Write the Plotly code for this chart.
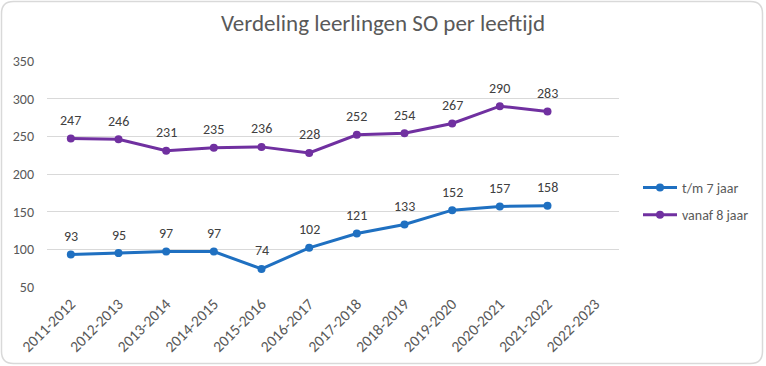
import plotly.graph_objects as go

categories = ["2011-2012", "2012-2013", "2013-2014", "2014-2015", "2015-2016", "2016-2017",
              "2017-2018", "2018-2019", "2019-2020", "2020-2021", "2021-2022", "2022-2023"]
tm7 = [93, 95, 97, 97, 74, 102, 121, 133, 152, 157, 158, None]
vanaf8 = [247, 246, 231, 235, 236, 228, 252, 254, 267, 290, 283, None]
y_ticks = [50, 100, 150, 200, 250, 300, 350]

W, H = 766, 366
L, R, T, B = 47, 147, 61, 79
pw, ph = W - L - R, H - T - B

def px(x):
    return (x - L) / pw

def py(y):
    return (H - B - y) / ph

FONT = "Carlito, Lato, 'Liberation Sans', sans-serif"

fig = go.Figure()
fig.add_trace(go.Scatter(
    x=categories, y=tm7, name="t/m 7 jaar", mode="lines+markers", legendgroup="a",
    line=dict(color="#1F70C1", width=3), marker=dict(size=8, color="#1F70C1")))
fig.add_trace(go.Scatter(
    x=categories, y=vanaf8, name="vanaf 8 jaar", mode="lines+markers", legendgroup="b",
    line=dict(color="#7030A0", width=3), marker=dict(size=8, color="#7030A0")))

annotations = []
for series in (tm7, vanaf8):
    for c, v in zip(categories, series):
        if v is None:
            continue
        annotations.append(dict(x=c, y=v, xref="x", yref="y", text=str(v), showarrow=False,
                                yanchor="middle", yshift=18,
                                font=dict(size=14, color="#404040", family=FONT)))

# rounded border
r = 12
x0, x1, y0, y1 = 1.5, W - 3.5, 1.5, H - 2.5
def P(x, y):
    return f"{px(x)},{py(y)}"
path = (f"M {P(x0 + r, y0)} L {P(x1 - r, y0)} Q {P(x1, y0)} {P(x1, y0 + r)} "
        f"L {P(x1, y1 - r)} Q {P(x1, y1)} {P(x1 - r, y1)} "
        f"L {P(x0 + r, y1)} Q {P(x0, y1)} {P(x0, y1 - r)} "
        f"L {P(x0, y0 + r)} Q {P(x0, y0)} {P(x0 + r, y0)} Z")

fig.update_layout(
    width=W, height=H,
    margin=dict(l=L, r=R, t=T, b=B, pad=0, autoexpand=False),
    paper_bgcolor="white", plot_bgcolor="white",
    font=dict(family=FONT, color="#595959"),
    title=dict(text="Verdeling leerlingen SO per leeftijd", x=0.5, xanchor="center",
               y=1 - 23 / H, yanchor="middle",
               font=dict(size=23, color="#595959", family=FONT)),
    xaxis=dict(type="category", categoryorder="array", categoryarray=categories,
               tickangle=-45, tickfont=dict(size=15.5, color="#595959"),
               showgrid=False, zeroline=False, showline=False, ticks="",
               range=[-0.5, 11.5], ticklabelstandoff=4, automargin=False),
    yaxis=dict(range=[50, 350], tickvals=y_ticks, showgrid=True, gridcolor="#D9D9D9",
               gridwidth=1, zeroline=False, showline=False, ticks="",
               tickfont=dict(size=14, color="#595959"), ticklabelstandoff=12,
               automargin=False),
    legend=dict(x=px(638), y=py(172), xanchor="left", yanchor="top",
                font=dict(size=14, color="#595959"), tracegroupgap=6,
                itemwidth=34, bgcolor="rgba(0,0,0,0)"),
    annotations=annotations,
    shapes=[dict(type="path", path=path, xref="paper", yref="paper",
                 line=dict(color="#D9D9D9", width=1.5), layer="below")],
)

fig.write_html("out.html", post_script="document.body.style.margin='0';",
               config={"displayModeBar": False})
